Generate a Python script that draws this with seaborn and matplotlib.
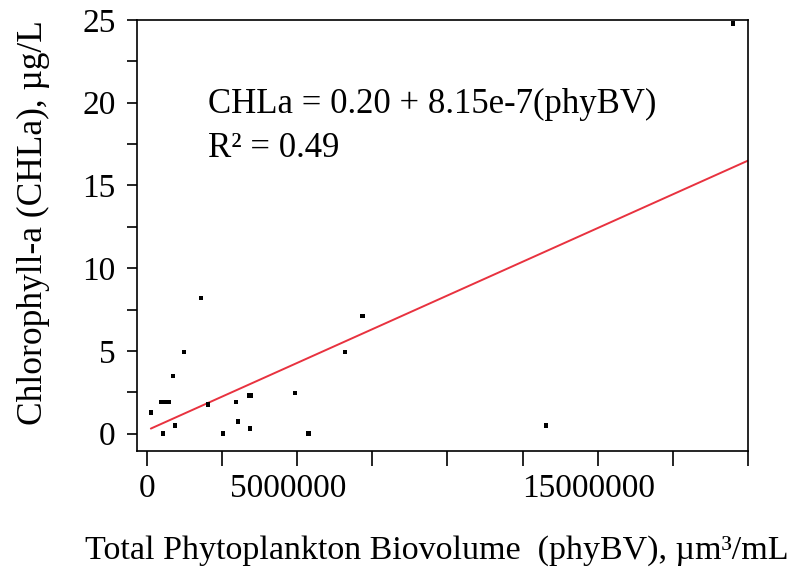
import numpy as np
import pandas as pd
import matplotlib
matplotlib.use("Agg")
import matplotlib.pyplot as plt
import matplotlib.transforms as mtransforms
import seaborn as sns

# Data (phyBV in µm3/mL, CHLa in µg/L)
phy_bv = [0.13e6, 0.47e6, 0.58e6, 0.73e6, 0.87e6, 0.93e6, 0.53e6, 1.23e6, 1.80e6,
          2.03e6, 2.53e6, 2.97e6, 3.03e6, 3.40e6, 3.47e6, 3.43e6, 4.93e6, 5.37e6,
          6.60e6, 7.17e6, 13.27e6, 19.50e6]
chla = [1.27, 1.93, 1.93, 1.93, 3.50, 0.48, 0.0, 4.95, 8.20,
        1.75, 0.0, 1.93, 0.73, 2.30, 2.30, 0.30, 2.46, 0.0,
        4.95, 7.10, 0.48, 24.8]

intercept = 0.20
slope = 8.15e-7

x_ticks = [0, 5e6, 10e6, 15e6, 20e6]
x_tick_labels = ["0", "5000000", "", "15000000", ""]
y_ticks = [0, 5, 10, 15, 20, 25]
y_tick_labels = ["0", "5", "10", "15", "20", "25"]

sns.set_theme(style="white")
plt.rcParams["font.family"] = ["Liberation Serif", "DejaVu Serif"]

fig = plt.figure(figsize=(7.93, 5.73), dpi=100)
ax = fig.add_axes([0.1728, 0.2129, 0.7704, 0.7522])

df = pd.DataFrame({"phyBV": phy_bv, "CHLa": chla})
sns.scatterplot(data=df, x="phyBV", y="CHLa", ax=ax, marker="s", s=10,
                color="black", edgecolor="none", linewidth=0, zorder=3)

xmax = 20e6
line_x = np.array([min(phy_bv), xmax])
line_df = pd.DataFrame({"phyBV": line_x, "CHLa": intercept + slope * line_x})
sns.lineplot(data=line_df, x="phyBV", y="CHLa", ax=ax, color="#e8323f",
             linewidth=1.4, zorder=2)

ax.set_xlim(-0.33e6, xmax)
ax.set_ylim(-1.05, 25)

ax.set_xticks(x_ticks)
ax.set_xticklabels(x_tick_labels)
ax.set_xticks([2.5e6, 7.5e6, 12.5e6, 17.5e6], minor=True)
ax.set_yticks(y_ticks)
ax.set_yticklabels(y_tick_labels)
ax.set_yticks([2.5, 7.5, 12.5, 17.5, 22.5], minor=True)

ax.tick_params(axis="x", which="both", direction="out", length=11, width=1.2,
               color="black", labelsize=24, pad=5, bottom=True)
ax.tick_params(axis="y", which="both", direction="out", length=7.5, width=1.2,
               color="black", labelsize=24, pad=8, left=True)
for lab in ax.get_xticklabels():
    lab.set_color("black")
    if lab.get_text() not in ("", "0"):
        lab.set_transform(lab.get_transform() +
                          mtransforms.ScaledTranslation(-9 / 100, 0, fig.dpi_scale_trans))
for lab in ax.get_yticklabels():
    lab.set_color("black")

for sp in ax.spines.values():
    sp.set_visible(True)
    sp.set_color("black")
    sp.set_linewidth(1.2)

ax.set_xlabel("Total Phytoplankton Biovolume  (phyBV), µm³/mL", fontsize=24.5,
              color="black")
ax.xaxis.set_label_coords(0.491, -0.195)
ax.set_ylabel("Chlorophyll-a (CHLa), µg/L", fontsize=25.5, color="black")
ax.yaxis.set_label_coords(-0.142, 0.53)

ax.text(0.116, 0.805, "CHLa = 0.20 + 8.15e-7(phyBV)", transform=ax.transAxes,
        fontsize=25, color="black", va="center", ha="left")
ax.text(0.116, 0.703, "R² = 0.49", transform=ax.transAxes,
        fontsize=25, color="black", va="center", ha="left")

fig.savefig("out.png", dpi=100)
